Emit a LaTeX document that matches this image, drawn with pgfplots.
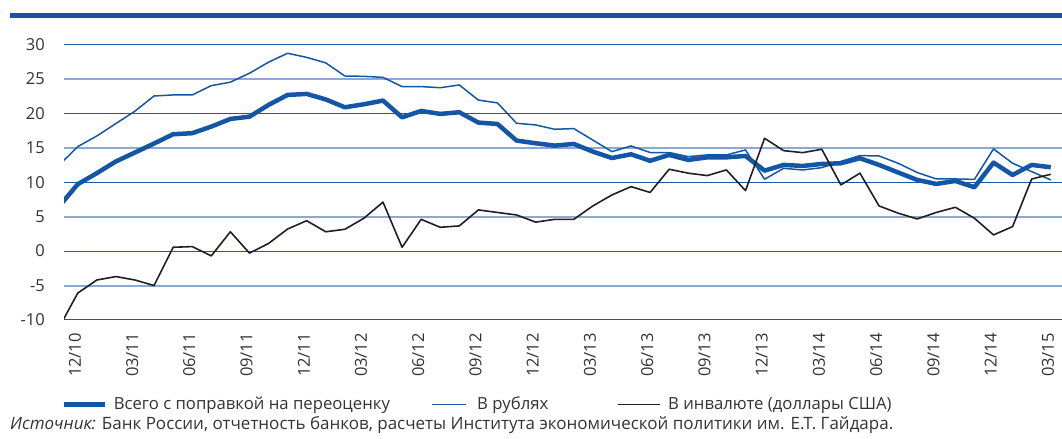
\documentclass[border=0pt]{standalone}
\usepackage{fontspec}
\setmainfont{Open Sans}
\usepackage{pgfplots}
\pgfplotsset{compat=1.18}
\usepackage{pgfplotstable}
\definecolor{barblue}{HTML}{1552A0}
\definecolor{lineblue}{HTML}{1456A6}
\definecolor{griddark}{HTML}{1F56A2}
\definecolor{gridlight}{HTML}{8CA8D3}
\definecolor{txt}{HTML}{333333}
\definecolor{blk}{HTML}{231F20}

\pgfplotstableread{
k total rub fx
-1 6.4 12.4 -11.2
0 9.7 15.15 -6.1
1 11.3 16.7 -4.2
2 13.0 18.5 -3.7
3 14.3 20.3 -4.2
4 15.6 22.5 -5.0
5 16.95 22.65 0.55
6 17.1 22.65 0.65
7 18.06 24.0 -0.7
8 19.17 24.5 2.8
9 19.5 25.8 -0.3
10 21.2 27.4 1.1
11 22.65 28.7 3.2
12 22.8 28.1 4.4
13 22.0 27.3 2.8
14 20.86 25.4 3.16
15 21.3 25.35 4.76
16 21.83 25.2 7.1
17 19.4 23.86 0.55
18 20.33 23.86 4.6
19 19.9 23.7 3.45
20 20.14 24.1 3.65
21 18.64 21.9 5.97
22 18.44 21.5 5.6
23 16.03 18.54 5.24
24 15.64 18.3 4.2
25 15.3 17.67 4.6
26 15.54 17.77 4.6
27 14.43 16.1 6.55
28 13.5 14.43 8.14
29 14.04 15.25 9.35
30 13.1 14.3 8.5
31 13.95 14.3 11.87
32 13.22 13.7 11.3
33 13.6 13.95 10.95
34 13.6 13.95 11.77
35 13.8 14.67 8.77
36 11.67 10.42 16.36
37 12.5 12.0 14.57
38 12.35 11.77 14.28
39 12.64 12.1 14.77
40 12.74 13.0 9.6
41 13.46 13.85 11.3
42 12.5 13.8 6.55
43 11.4 12.74 5.5
44 10.32 11.4 4.66
45 9.74 10.46 5.6
46 10.17 10.46 6.35
47 9.26 10.4 4.76
48 12.83 14.82 2.34
49 11.04 12.74 3.55
50 12.5 11.53 10.46
51 12.16 10.32 11.14
}\datatable

\begin{document}
\begin{tikzpicture}[x=1bp,y=1bp]
\path[use as bounding box] (0,0) rectangle (1062,439);
\fill[barblue] (10,420.7) rectangle (1062,425.7);
\begin{axis}[
  at={(64bp,119bp)}, anchor=south west,
  scale only axis, width=998bp, height=275.7bp,
  xmin=-0.72, xmax=51.59, ymin=-10, ymax=30,
  axis line style={draw=none},
  tick style={draw=none},
  major tick length=0pt, minor tick length=0pt,
  font=\fontsize{16.5bp}{19bp}\selectfont,
  ticklabel style={text=txt},
  /pgf/number format/assume math mode=true,
  ytick={-10,0,10,20,30},
  minor ytick={-5,5,15,25},
  ymajorgrids, yminorgrids,
  major grid style={griddark, line width=1bp},
  minor grid style={gridlight, line width=2bp},
  extra y ticks={-5,5,15,25},
  extra y tick style={grid=none},
  yticklabel style={anchor=east, inner sep=0pt},
  yticklabel shift=19bp,
  xtick={-0.15,2.85,...,50.85},
  xticklabels={12/10,03/11,06/11,09/11,12/11,03/12,06/12,09/12,12/12,03/13,06/13,09/13,12/13,03/14,06/14,09/14,12/14,03/15},
  xticklabel style={rotate=90, anchor=east, inner sep=0pt},
  xticklabel shift=13bp,
]
\addplot[lineblue, line width=4.5bp, line join=round] table[x=k, y=total] {\datatable};
\addplot[lineblue, line width=1.5bp, line join=round] table[x=k, y=rub] {\datatable};
\addplot[blk, line width=1.6bp, line join=round] table[x=k, y=fx] {\datatable};
\end{axis}
\begin{scope}[font=\fontsize{16.7bp}{20bp}\selectfont, text=txt]
\draw[lineblue, line width=4.5bp] (63.7,34.5) -- (105,34.5);
\node[anchor=base west, inner sep=0pt] at (113.6,29) {Всего с поправкой на переоценку};
\draw[lineblue, line width=1.5bp] (432,34.5) -- (466,34.5);
\node[anchor=base west, inner sep=0pt] at (477,29) {В рублях};
\draw[blk, line width=1.6bp] (618,34.5) -- (660,34.5);
\node[anchor=base west, inner sep=0pt] at (668,29) {В инвалюте (доллары США)};
\node[anchor=base west, inner sep=0pt, font=\fontsize{17bp}{20bp}\selectfont] at (10,9.7) {\textit{Источник:} Банк России, отчетность банков, расчеты Института экономической политики им. Е.Т. Гайдара.};
\end{scope}
\end{tikzpicture}
\end{document}
